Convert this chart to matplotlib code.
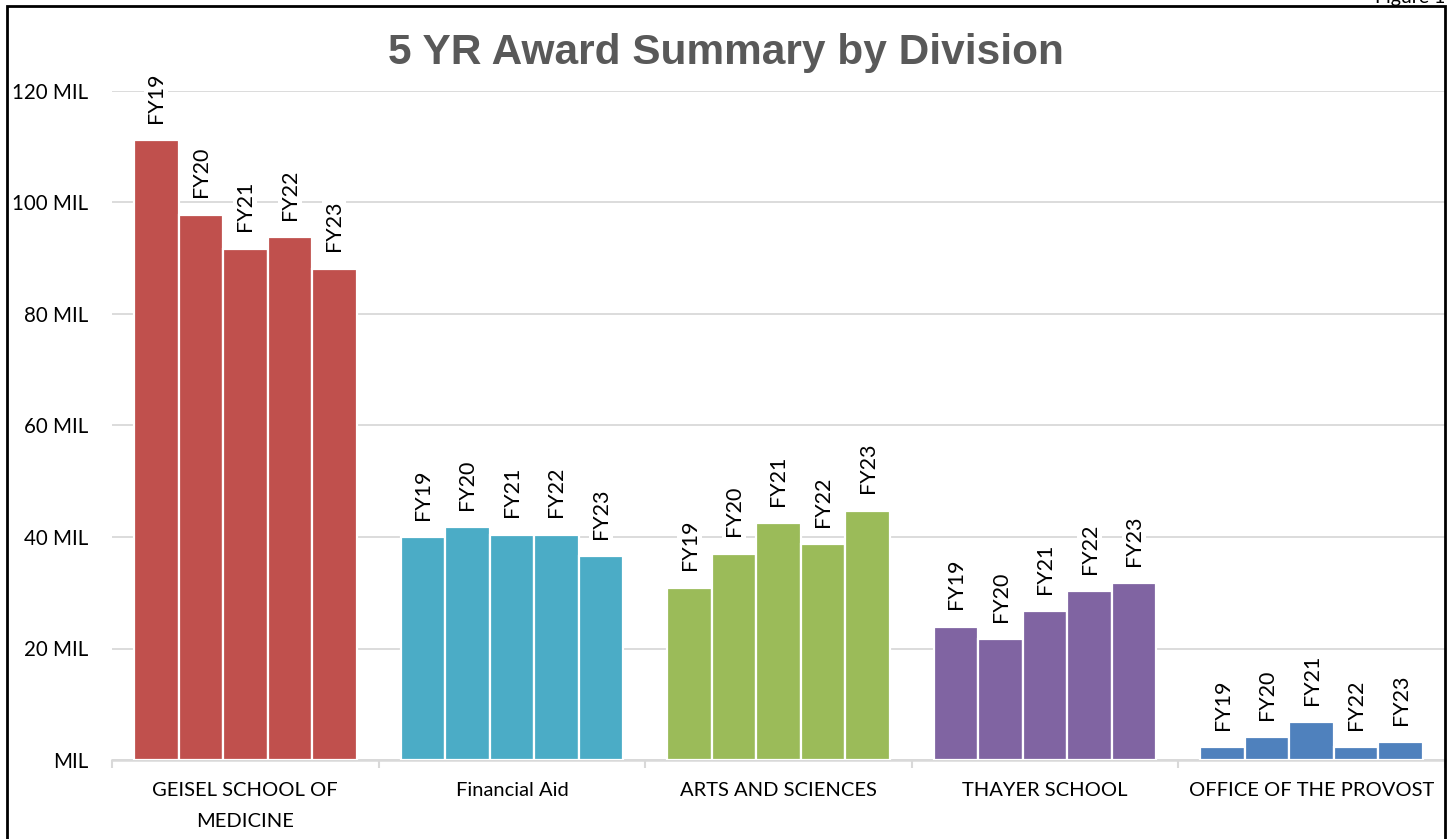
import matplotlib
matplotlib.use("Agg")
import matplotlib.pyplot as plt
import numpy as np
from matplotlib.patches import Rectangle

divisions = ["GEISEL SCHOOL OF\nMEDICINE", "Financial Aid", "ARTS AND SCIENCES",
             "THAYER SCHOOL", "OFFICE OF THE PROVOST"]
years = ["FY19", "FY20", "FY21", "FY22", "FY23"]
values = [
    [111.2, 97.8, 91.7, 93.8, 88.1],   # Geisel
    [40.0, 41.8, 40.4, 40.4, 36.6],    # Financial Aid
    [30.9, 37.0, 42.5, 38.7, 44.7],    # Arts and Sciences
    [23.9, 21.7, 26.7, 30.3, 31.7],    # Thayer
    [2.3, 4.1, 6.8, 2.3, 3.2],         # Provost
]
colors = ["#C0504D", "#4BACC6", "#9BBB59", "#8064A2", "#4F81BD"]
yticks = [0, 20, 40, 60, 80, 100, 120]
ytick_labels = ["MIL", "20 MIL", "40 MIL", "60 MIL", "80 MIL", "100 MIL", "120 MIL"]

W, H = 1450, 839
fig = plt.figure(figsize=(W / 100, H / 100), dpi=100)
font = ["Lato", "DejaVu Sans"]

ax = fig.add_axes([112 / W, 1 - 760 / H, (1445 - 112) / W, (760 - 91) / H])
ax.set_xlim(-0.5, 4.5)
ax.set_ylim(0, 120)

pitch = 44.5 / 266.6
for i, (vals, c) in enumerate(zip(values, colors)):
    for j, (v, yr) in enumerate(zip(vals, years)):
        x = i + (j - 2) * pitch
        ax.bar(x, v, width=pitch, color=c, edgecolor="white", linewidth=1.6, zorder=3)
        ax.annotate(yr, (x, v), xytext=(0, 12.5), textcoords="offset points",
                    rotation=90, ha="center", va="bottom", fontsize=15.5,
                    family=font, color="black", annotation_clip=False, zorder=4,
                    bbox=dict(boxstyle="square,pad=0.1", fc="white", ec="none"))

ax.set_yticks(yticks)
ax.set_yticklabels(ytick_labels, family=font, fontsize=14.8)
ax.tick_params(axis="y", length=0, pad=17)
ax.yaxis.grid(True, color="#D9D9D9", linewidth=1.3, zorder=0)
ax.set_axisbelow(True)

ax.set_xticks(np.arange(-0.5, 5.0, 1.0))
ax.set_xticklabels([])
ax.set_xticks(np.arange(5), minor=True)
ax.set_xticklabels(divisions, minor=True, family=font, fontsize=14.5, linespacing=1.95)
ax.tick_params(axis="x", which="major", length=6, color="#D9D9D9", width=1.5)
ax.tick_params(axis="x", which="minor", length=0, pad=16)

for s in ["top", "right", "left"]:
    ax.spines[s].set_visible(False)
ax.spines["bottom"].set_color("#D9D9D9")
ax.spines["bottom"].set_linewidth(1.8)

fig.text(726 / W, 1 - 53 / H, "5 YR Award Summary by Division", ha="center", va="center",
         fontsize=30.5, fontweight="bold", color="#595959", family=["Liberation Sans", "DejaVu Sans"])

fig.text(1445 / W, 1 - 3 / H, "Figure 1", ha="right", va="baseline", fontsize=14,
         family=font, color="black")

frame = Rectangle((7 / W, -0.05), (1445 - 7) / W, 1.05 - 6 / H, transform=fig.transFigure,
                  fill=False, edgecolor="black", linewidth=2, zorder=10)
fig.patches.append(frame)

fig.savefig("out.png", dpi=100)
